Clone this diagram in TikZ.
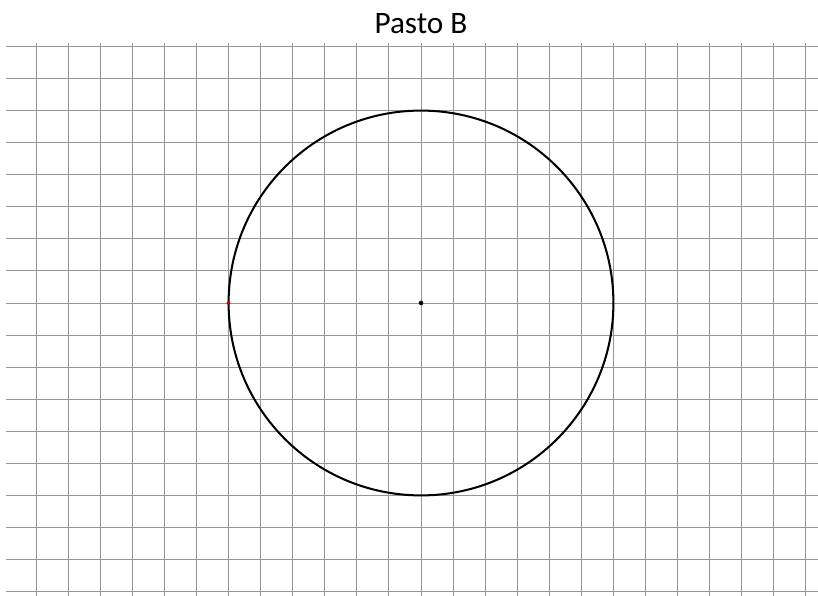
\documentclass[tikz,border=0pt]{standalone}
\usepackage{fontspec}
\setmainfont{Carlito}
\usepackage{tikz}
\usepackage{xcolor}
\usetikzlibrary{positioning}

\definecolor{gridgray}{RGB}{150,150,150}

\begin{document}
\begin{tikzpicture}[x=1cm,y=1cm]
        % Page frame
        \useasboundingbox (-13.128,-9.136) rectangle (12.379,9.448);
        
        % Draw grid
        \foreach \gx in {-12,...,12}
            \draw[gridgray, line width=0.8pt] (\gx,8.107) -- (\gx,-9.136);
        \foreach \gy in {-9,...,8}
            \draw[gridgray, line width=0.8pt] (-12.94,\gy) -- (12.379,\gy);
        
        % Title
        \node[anchor=base] (titulo) at (0,8.39) {\fontsize{27.7}{33}\selectfont Pasto B};
        
        % Draw circle of radius 6
        \coordinate (centro) at (0,0);
        \coordinate (borde) at (-6,0);
        \draw[black, line width=1.8pt] (centro) circle (6);
        
        % Mark key points
        \filldraw[black] (centro) circle (1.8pt);
        \filldraw[red, draw=black!60!red, line width=0.4pt] (borde) circle (1.6pt);
    \end{tikzpicture}
\end{document}
